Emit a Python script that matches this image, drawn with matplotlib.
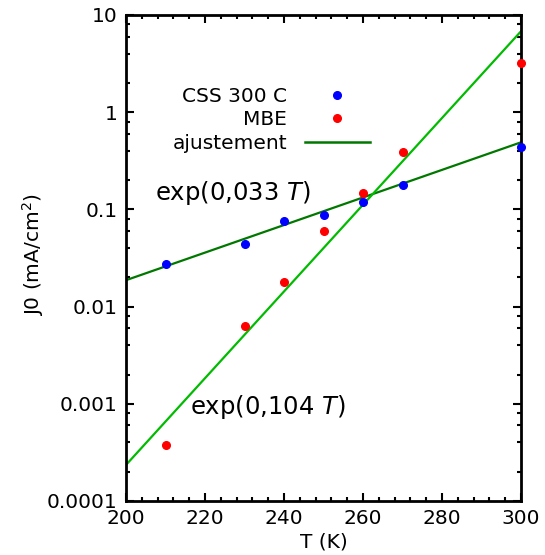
import matplotlib
matplotlib.use('Agg')
import matplotlib.pyplot as plt
from matplotlib.ticker import LogLocator, MultipleLocator, FixedFormatter, FixedLocator

plt.rcParams['font.family'] = ['DejaVu Sans']
plt.rcParams['mathtext.fontset'] = 'dejavusans'

# mesures
T_css = [210, 230, 240, 250, 260, 270, 300]
J_css = [0.0274, 0.044, 0.076, 0.087, 0.119, 0.18, 0.44]
T_mbe = [210, 230, 240, 250, 260, 270, 300]
J_mbe = [0.00038, 0.0063, 0.018, 0.060, 0.147, 0.39, 3.2]

# ajustements (droites en échelle log)
T_fit = [200, 300]
fit_css = [0.0187, 0.49]
fit_mbe = [0.000235, 6.8]

yticks = [0.0001, 0.001, 0.01, 0.1, 1, 10]
ylabels = ['0.0001', '0.001', '0.01', '0.1', '1', '10']

fig = plt.figure(figsize=(5.45, 5.55), dpi=100)
ax = fig.add_axes([126/545, 1 - 501/555, 395/545, 486/555])

ax.plot(T_fit, fit_css, color='#007800', lw=1.6)
ax.plot(T_fit, fit_mbe, color='#00bb00', lw=1.6)
ax.plot(T_css, J_css, 'o', color='#0000ff', ms=5.5, ls='none', clip_on=False, zorder=5)
ax.plot(T_mbe, J_mbe, 'o', color='#ff0000', ms=5.5, ls='none', clip_on=False, zorder=5)

# légende façon gnuplot
h1, = ax.plot([], [], 'o', color='#0000ff', ms=5.5, ls='none')
h2, = ax.plot([], [], 'o', color='#ff0000', ms=5.5, ls='none')
h3, = ax.plot([], [], color='#007800', lw=1.8)
ax.legend([h1, h2, h3], ['CSS 300 C', 'MBE', 'ajustement'], markerfirst=False,
          frameon=False, fontsize=14.5, handlelength=3.2, labelspacing=0.22,
          handletextpad=0.9, loc='upper left', bbox_to_anchor=(0.092, 0.873),
          borderpad=0)

ax.text(207.3, 0.148, 'exp(0,033 $T$)', fontsize=17.5, va='center', ha='left')
ax.text(216.2, 0.00093, 'exp(0,104 $T$)', fontsize=17.5, va='center', ha='left')

ax.set_yscale('log')
ax.set_xlim(200, 300)
ax.set_ylim(0.0001, 10)
ax.xaxis.set_major_locator(MultipleLocator(20))
ax.xaxis.set_minor_locator(MultipleLocator(4))
ax.yaxis.set_major_locator(FixedLocator(yticks))
ax.yaxis.set_major_formatter(FixedFormatter(ylabels))
ax.yaxis.set_minor_locator(LogLocator(base=10, subs=(2, 4, 6, 8)))
ax.yaxis.set_minor_formatter(FixedFormatter([]))

ax.tick_params(which='both', direction='in', top=True, right=True, labelsize=14.5, width=1.5)
ax.tick_params(which='major', length=6)
ax.tick_params(which='minor', length=3)
ax.tick_params(axis='x', pad=6)
ax.tick_params(axis='y', pad=6)
for s in ax.spines.values():
    s.set_linewidth(2)

ax.set_xlabel('T (K)', fontsize=14.5, labelpad=3)
ax.set_ylabel('J0 (mA/cm$^2$)', fontsize=14.5)
ax.yaxis.set_label_coords(-0.203, 0.506)

fig.savefig('out.png', dpi=100)
